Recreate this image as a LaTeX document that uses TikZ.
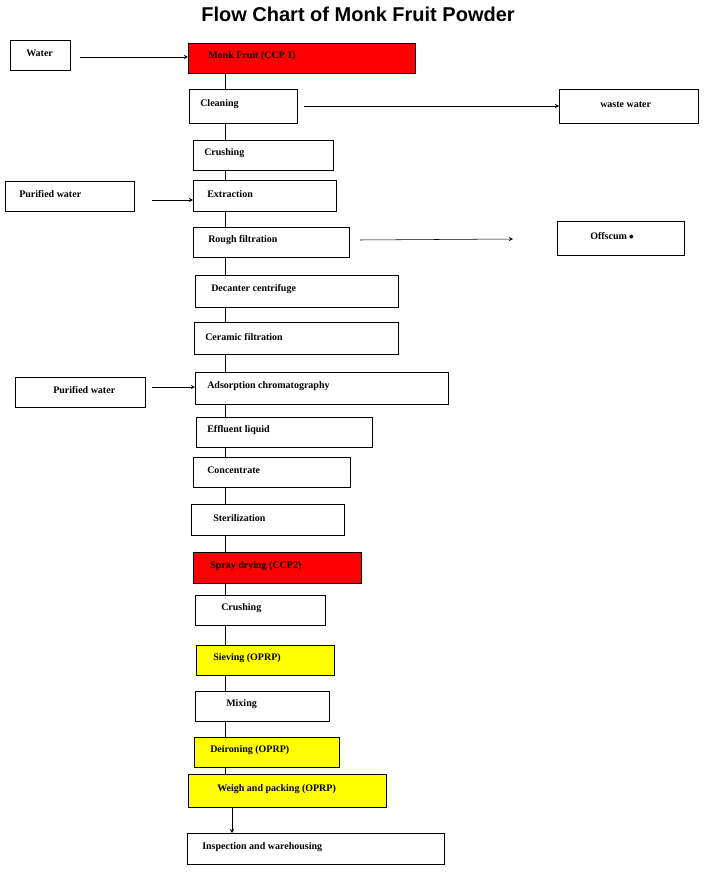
\documentclass[tikz,border=0pt]{standalone}
\usepackage{fontspec}
\setmainfont{Liberation Serif}
\setsansfont{Liberation Sans}
\newfontfamily\symfont{DejaVu Sans}
\usetikzlibrary{positioning,calc}

\definecolor{ccpred}{RGB}{255,0,0}
\definecolor{oprpyellow}{RGB}{255,255,0}

\tikzset{
  box/.style={draw, thick, rectangle, anchor=north west, inner sep=0pt},
  txt/.style={anchor=west, font=\bfseries\fontsize{7.5}{9}\selectfont, inner sep=0pt},
  link/.style={draw, thin},
  feed/.style={draw, thin, -stealth}
}

% name, x1, y1, x2, y2, text offset, text, fill
\newcommand{\stepbox}[8]{%
  \node[box, fill=#8, minimum width={(#4-#2)*0.75pt}, minimum height={(#5-#3)*0.75pt}]
    (#1) at (#2,#3) {};
  \node[txt] (#1-t) at ([xshift=#6*0.75pt, yshift=1.5pt]#1.west) {#7};
}

\begin{document}
\begin{tikzpicture}[x=0.75pt, y=-0.75pt]
\useasboundingbox (0,0) rectangle (717,877);

\node[font=\sffamily\bfseries\fontsize{15}{18}\selectfont] (title) at (358,14) {Flow Chart of Monk Fruit Powder};

\stepbox{water}{10}{40}{70}{70}{16}{Water}{white}
\stepbox{monk}{188}{43}{415}{73}{20}{Monk Fruit (CCP 1)}{ccpred}
\stepbox{clean}{189}{89}{297}{123}{11}{Cleaning}{white}
\stepbox{waste}{559}{89}{698}{123}{41}{waste water}{white}
\stepbox{crush}{193}{140}{333}{170}{11}{Crushing}{white}
\stepbox{pwa}{5}{181}{134}{211}{14}{Purified water}{white}
\stepbox{extr}{193}{180}{336}{211}{14}{Extraction}{white}
\stepbox{rough}{193}{227}{349}{257}{15}{Rough filtration}{white}
\stepbox{offs}{557}{221}{684}{255}{33}{Offscum\,{\symfont\tiny ✸}}{white}
\stepbox{decant}{195}{275}{398}{307}{16}{Decanter centrifuge}{white}
\stepbox{ceram}{194}{322}{398}{354}{11}{Ceramic filtration}{white}
\stepbox{pwb}{15}{377}{145}{407}{38}{Purified water}{white}
\stepbox{adsorb}{195}{372}{448}{404}{12}{Adsorption chromatography}{white}
\stepbox{effl}{196}{417}{372}{447}{11}{Effluent liquid}{white}
\stepbox{conc}{193}{457}{350}{487}{14}{Concentrate}{white}
\stepbox{steril}{191}{504}{344}{535}{22}{Sterilization}{white}
\stepbox{spray}{193}{552}{361}{583}{17}{Spray drying (CCP2)}{ccpred}
\stepbox{crushb}{195}{595}{325}{625}{26}{Crushing}{white}
\stepbox{sieve}{196}{645}{334}{675}{17}{Sieving (OPRP)}{oprpyellow}
\stepbox{mix}{195}{691}{329}{721}{31}{Mixing}{white}
\stepbox{deiron}{194}{737}{339}{767}{16}{Deironing (OPRP)}{oprpyellow}
\stepbox{weigh}{188}{774}{386}{807}{29}{Weigh and packing (OPRP)}{oprpyellow}
\stepbox{insp}{187}{833}{444}{864}{15}{Inspection and warehousing}{white}

% main spine
\coordinate (spine) at (225,0);
\foreach \a/\b in {monk/clean, clean/crush, crush/extr, extr/rough, rough/decant,
  decant/ceram, ceram/adsorb, adsorb/effl, effl/conc, conc/steril, steril/spray,
  spray/crushb, crushb/sieve, sieve/mix, mix/deiron, deiron/weigh}
  \path[link] (\a.south -| spine) -- (\b.north -| spine);
\coordinate (spineb) at (232,0);
\path[feed] (weigh.south -| spineb) -- (insp.north -| spineb);

% side streams
\coordinate (wa) at (80,57);
\coordinate (wb) at (304,106);
\coordinate (wc) at (152,200);
\coordinate (wd) at (360,240);
\coordinate (we) at (513,239);
\coordinate (wf) at (152,387);
\path[feed] (wa) -- (wa -| monk.west);
\path[feed] (wb) -- (wb -| waste.west);
\path[feed] (wc) -- (wc -| extr.west);
\path[feed] (wd) -- (we);
\path[feed] (wf) -- (wf -| adsorb.west);
\end{tikzpicture}
\end{document}
